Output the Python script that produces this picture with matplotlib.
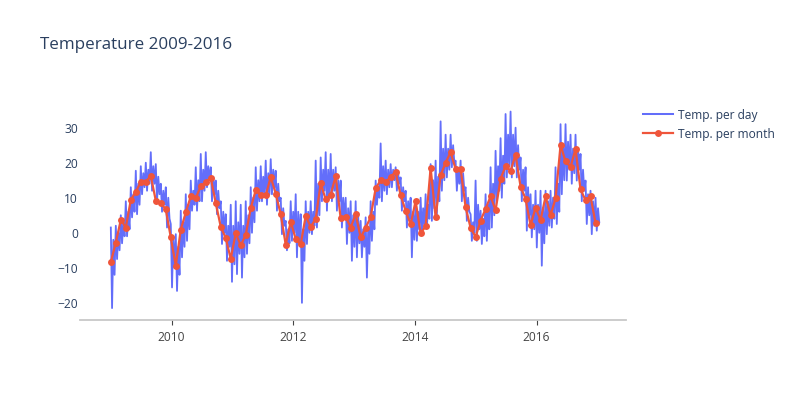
import matplotlib
matplotlib.use("Agg")
import matplotlib.pyplot as plt
from matplotlib.lines import Line2D
import pandas as pd

# ---------------- data ----------------
start_date = "2009-01-01"
day_step = "180h"     # readings of the daily trace: upper/lower excursions, 7.5 days apart
month_step = "30D"    # the "per month" samples are 30 days apart

# each line: four 30-day blocks, each block = high, low, second high, second low
temp_day = [
    1.5, -21.5, -2, -12,   2, -7.5, 0, -5,      5, -3, 3, -1,        9, -1, 6, 1,
    13, 4.4, 11, 6,        17.7, 5.3, 14, 8,    19, 11, 17, 13,      20, 12, 18, 14,
    23, 12, 19, 14,        19.6, 9, 16, 11,     14, 6, 12, 8,        13, 1.5, 10, 4,
    2.5, -15.6, -1, -10,   -0.4, -16.6, -4, -12, 6.3, -7, 3, -4,     11, -2.3, 8, 1,
    14.9, 6.3, 12, 8,      18.7, 6.3, 15, 9,    22.5, 9, 18, 12,     23, 13, 19, 15,
    18.7, 9, 16, 11,       14.9, 5.3, 12, 7,    9, -3.2, 6, 0,       5.3, -8, 2, -4,
    8, -14, 2, -9,         9, -11.8, 3, -6,     8, -12.8, 2, -7,     9, -6, 5, -3,
    13, 0, 10, 3,          18.7, 6.3, 15, 9,    19, 9, 16, 11,       20.6, 8, 17, 11,
    21, 11, 18, 13,        17.7, 6.3, 14, 9,    10, -0.4, 7, 2,      3.4, -5, 1, -3,
    9, -2.3, 6, 0,         11, -7, 6, -3,       5.3, -20, 1, -8,     9, -3.2, 6, 0,
    9, -0.4, 6, 2,         20.6, 1.5, 14, 5,    21.5, 9, 18, 12,     23, 6.3, 18, 10,
    22.5, 9, 18, 12,       18.7, 6.3, 15, 9,    14.9, 1.5, 10, 4,    10, -3.2, 7, 0,
    9, -8, 5, -4,          9, -7, 5, -3,        3.4, -7, 1, -4,      4.4, -12.8, 1, -6,
    9, -2.3, 6, 1,         14.9, 8, 13, 10,     25.5, 9, 19, 12,     20.6, 11, 18, 13,
    19.6, 13, 18, 15,      18.7, 12, 17, 14,    15.8, 6.3, 13, 9,    12, 1.5, 9, 4,
    10, -7, 6, -2,         9, -2.3, 6, 1,       10, -0.4, 7, 2,      11, 1.5, 8, 4,
    19.6, 3.4, 15, 7,      20.6, 5.3, 16, 9,    31.8, 12, 24, 15,    28, 15.8, 24, 18,
    28, 18.7, 25, 20,      20.6, 12, 18, 14,    20.6, 9, 17, 12,     13, 3.4, 10, 6,
    5.3, -2.3, 3, 0,       14.9, -2.3, 8, 1,    6.3, -3.2, 4, -1,    11, -2.3, 8, 1,
    18.7, 1.5, 14, 5,      23.4, 9, 19, 12,     27, 10, 22, 14,      33.9, 15.8, 28, 19,
    34.6, 15.8, 28, 19,    30, 15.8, 25, 18,    21.5, 9, 18, 12,     18.7, 0.6, 13, 5,
    11, -1.3, 8, 1,        12, -4.2, 8, 0,      12, -9.4, 7, -3,     12, -0.4, 9, 2,
    12, 1.5, 10, 4,        18.7, 2.5, 14, 6,    31, 11, 25, 15,      31, 14.9, 26, 18,
    28, 14, 24, 17,        28, 14.9, 24, 18,    22.5, 9, 18, 12,     14.9, 2.5, 11, 5,
    12, -0.4, 9, 2,        10, 0.6, 7, 3,
]

temp_month = [
    -8.4, -2.8, 3.7, 1.5, 9.4, 11.7, 14.5, 14.6, 16.2, 9.2, 8.5, 6.7,
    -1.3, -9.4, 0.9, 5.8, 10.4, 9.9, 13.3, 14.4, 15.7, 8.5, 1.7, -1.5,
    -7.4, -0.1, -3.6, -0.6, 7.0, 12.2, 10.8, 10.7, 15.9, 11.2, 5.3, -3.4,
    3.2, -1.8, -3.3, 4.8, 1.7, 4.0, 14.1, 9.5, 10.9, 16.2, 4.1, 4.6,
    1.5, 5.3, -1.3, 1.4, 4.5, 12.7, 15.0, 14.4, 16.0, 17.4, 10.7, 6.3,
    2.4, 9.1, -0.2, 1.9, 18.6, 4.4, 16.4, 20.0, 23.0, 18.2, 18.3, 7.3,
    1.4, -1.2, 3.5, 6.8, 10.4, 6.4, 15.4, 19.0, 17.7, 22.3, 13.2, 9.7,
    2.1, 7.2, 3.6, 10.4, 5.0, 9.8, 25.0, 20.4, 18.8, 23.9, 12.4, 9.3,
    10.4, 2.8,
]

tick_years = ["2010", "2012", "2014", "2016"]
y_ticks = [-20, -10, 0, 10, 20, 30]
series_names = ["Temp. per day", "Temp. per month"]
title_text = "Temperature 2009-2016"

# ---------------- figure ----------------
plt.rcParams['font.family'] = ['Open Sans', 'DejaVu Sans']
W, H = 800, 400
fig = plt.figure(figsize=(8, 4), dpi=100)
fig.patch.set_facecolor("white")

def fx(px):
    return px / W

def fy(py):
    return 1 - py / H

ax = fig.add_axes([fx(80), fy(320), fx(626) - fx(80), fy(100) - fy(320)])
ax.set_facecolor("white")

day_dates = pd.date_range(start_date, periods=len(temp_day), freq=day_step)
month_dates = pd.date_range(start_date, periods=len(temp_month), freq=month_step)

BLUE = "#636efa"
RED = "#EF553B"
TXT = "#2a3f5f"

ax.plot(day_dates, temp_day, color=BLUE, lw=1.3, solid_joinstyle="round", zorder=2)
ax.plot(month_dates, temp_month, color=RED, lw=1.6, marker="o", ms=5.0,
        markeredgewidth=0, zorder=3)

# axis ranges
ax.set_xlim(pd.Timestamp("2008-06-30"), pd.Timestamp("2017-06-21"))
ax.set_ylim(-24.9, 37.9)

# axis styling
for s in ["top", "right", "left"]:
    ax.spines[s].set_visible(False)
ax.spines["bottom"].set_color("#c8c8c8")
ax.spines["bottom"].set_linewidth(1.3)

ax.set_xticks([pd.Timestamp(f"{y}-01-01") for y in tick_years])
ax.set_xticklabels(tick_years)
ax.tick_params(axis="x", direction="out", length=3.6, width=0.8, color="#444444",
               labelsize=8.64, labelcolor="#444444", pad=4)

ax.set_yticks(y_ticks)
ax.tick_params(axis="y", length=0, labelsize=8.64, labelcolor=TXT, pad=1.5)
ax.grid(False)

# title
fig.text(fx(40), fy(45), title_text, fontsize=12.24, color=TXT, ha="left", va="center")

# legend (drawn at the reference position)
rows = [114, 133]
fig.add_artist(Line2D([fx(643), fx(673)], [fy(rows[0])] * 2, color=BLUE, lw=1.45,
                      transform=fig.transFigure))
fig.add_artist(Line2D([fx(643), fx(673)], [fy(rows[1])] * 2, color=RED, lw=1.6,
                      transform=fig.transFigure))
fig.add_artist(Line2D([fx(658)], [fy(rows[1])], color=RED, marker="o", ms=5.0,
                      markeredgewidth=0, transform=fig.transFigure))
for r, name in zip(rows, series_names):
    fig.text(fx(678), fy(r), name, fontsize=8.64, color=TXT, ha="left", va="center_baseline")

fig.savefig("out.png", dpi=100, facecolor="white")
